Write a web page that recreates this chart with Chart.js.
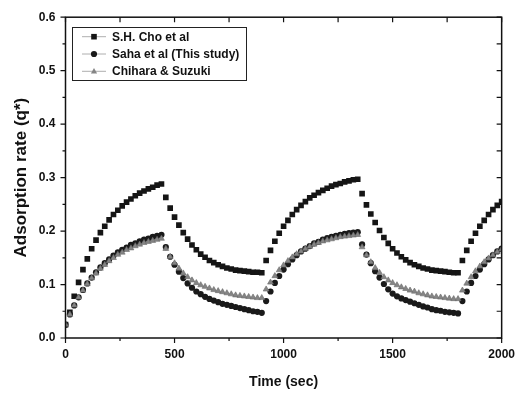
<!DOCTYPE html>
<html>
<head>
<meta charset="utf-8">
<script src="https://cdn.jsdelivr.net/npm/chart.js@4.4.1/dist/chart.umd.min.js"></script>
<style>
  html, body { margin: 0; padding: 0; background: #fff; }
  #wrap { width: 524px; height: 393px; }
</style>
</head>
<body>
<div id="wrap"><canvas id="myChart"></canvas></div>
<script>
// time axis (sec)
const times = [
  0, 20, 40, 60, 80, 100, 120, 140, 160, 180, 200, 220, 240, 260, 280, 300, 320, 340, 360, 380, 400, 420, 440,
  460, 480, 500, 520, 540, 560, 580, 600, 620, 640, 660, 680, 700, 720, 740, 760, 780, 800, 820, 840, 860, 880, 900,
  920, 940, 960, 980, 1000, 1020, 1040, 1060, 1080, 1100, 1120, 1140, 1160, 1180, 1200, 1220, 1240, 1260, 1280, 1300, 1320, 1340,
  1360, 1380, 1400, 1420, 1440, 1460, 1480, 1500, 1520, 1540, 1560, 1580, 1600, 1620, 1640, 1660, 1680, 1700, 1720, 1740, 1760, 1780, 1800,
  1820, 1840, 1860, 1880, 1900, 1920, 1940, 1960, 1980, 2000
];

// S.H. Cho et al (squares)
const choValues = [
  0.025, 0.048, 0.078, 0.104, 0.128, 0.148, 0.167, 0.183, 0.197, 0.209, 0.221, 0.231, 0.239, 0.247, 0.254, 0.260, 0.266, 0.271, 0.275, 0.279, 0.282, 0.286, 0.288,
  0.263, 0.243, 0.226, 0.211, 0.197, 0.185, 0.174, 0.165, 0.157, 0.151, 0.145, 0.141, 0.137, 0.134, 0.131, 0.129, 0.127, 0.126, 0.125, 0.124, 0.123, 0.123, 0.122,
  0.145, 0.164, 0.181, 0.196, 0.209, 0.220, 0.231, 0.240, 0.248, 0.255, 0.262, 0.267, 0.272, 0.276, 0.280, 0.284, 0.287, 0.289, 0.292, 0.294, 0.296, 0.297,
  0.270, 0.249, 0.232, 0.216, 0.201, 0.188, 0.177, 0.167, 0.159, 0.152, 0.146, 0.141, 0.137, 0.134, 0.131, 0.129, 0.127, 0.126, 0.125, 0.124, 0.123, 0.122, 0.122,
  0.145, 0.164, 0.181, 0.196, 0.209, 0.220, 0.231, 0.240, 0.248, 0.255
];

// Saha et al (circles)
const sahaValues = [
  0.025, 0.044, 0.061, 0.076, 0.090, 0.102, 0.113, 0.123, 0.132, 0.140, 0.147, 0.154, 0.160, 0.165, 0.169, 0.174, 0.177, 0.181, 0.184, 0.186, 0.189, 0.191, 0.193,
  0.170, 0.152, 0.137, 0.124, 0.112, 0.102, 0.094, 0.087, 0.082, 0.077, 0.073, 0.070, 0.067, 0.064, 0.062, 0.060, 0.058, 0.056, 0.054, 0.052, 0.050, 0.049, 0.047,
  0.069, 0.087, 0.103, 0.116, 0.128, 0.138, 0.147, 0.155, 0.162, 0.167, 0.172, 0.177, 0.180, 0.184, 0.187, 0.189, 0.191, 0.193, 0.195, 0.196, 0.197, 0.198,
  0.175, 0.156, 0.140, 0.125, 0.113, 0.101, 0.091, 0.083, 0.078, 0.074, 0.071, 0.068, 0.065, 0.062, 0.059, 0.057, 0.054, 0.052, 0.051, 0.049, 0.048, 0.047, 0.046,
  0.069, 0.087, 0.103, 0.116, 0.128, 0.138, 0.147, 0.155, 0.162, 0.167
];

// Chihara & Suzuki (triangles)
const chiharaValues = [
  0.025, 0.044, 0.061, 0.076, 0.089, 0.101, 0.112, 0.121, 0.130, 0.137, 0.144, 0.150, 0.156, 0.160, 0.165, 0.168, 0.172, 0.175, 0.178, 0.180, 0.182, 0.184, 0.186,
  0.167, 0.152, 0.140, 0.130, 0.121, 0.114, 0.108, 0.103, 0.099, 0.096, 0.093, 0.090, 0.088, 0.086, 0.084, 0.082, 0.080, 0.079, 0.078, 0.077, 0.076, 0.075, 0.075,
  0.091, 0.104, 0.116, 0.127, 0.136, 0.144, 0.151, 0.157, 0.162, 0.167, 0.171, 0.175, 0.178, 0.181, 0.183, 0.185, 0.187, 0.189, 0.190, 0.191, 0.192, 0.193,
  0.170, 0.155, 0.142, 0.131, 0.122, 0.114, 0.108, 0.103, 0.099, 0.095, 0.092, 0.089, 0.087, 0.084, 0.082, 0.080, 0.078, 0.077, 0.076, 0.075, 0.074, 0.073, 0.073,
  0.089, 0.102, 0.114, 0.125, 0.134, 0.142, 0.149, 0.155, 0.161, 0.166
];

const seriesNames = ['S.H. Cho et al', 'Saha et al (This study)', 'Chihara & Suzuki'];

Chart.defaults.font.family = '"Liberation Sans", Arial, sans-serif';

function toPoints(values) {
  return times.map((t, i) => ({ x: t, y: values[i] }));
}

// box with ticks on all four sides (out on bottom/left, in on top/right)
const frameTicks = {
  id: 'frameTicks',
  afterDatasetsDraw(chart) {
    const { ctx, chartArea: a, scales: { x, y } } = chart;
    ctx.save();
    ctx.strokeStyle = '#111';
    ctx.lineWidth = 1.5;
    ctx.strokeRect(a.left, a.top, a.right - a.left, a.bottom - a.top);
    ctx.lineWidth = 1.2;
    ctx.beginPath();
    for (let v = 0; v <= 2000; v += 250) {
      const px = x.getPixelForValue(v);
      const len = v % 500 === 0 ? 5 : 3;
      ctx.moveTo(px, a.bottom); ctx.lineTo(px, a.bottom + len);
      ctx.moveTo(px, a.top); ctx.lineTo(px, a.top + 5);
    }
    for (let k = 0; k <= 12; k++) {
      const py = y.getPixelForValue(k * 0.05);
      const len = k % 2 === 0 ? 5 : 3;
      ctx.moveTo(a.left, py); ctx.lineTo(a.left - len, py);
      ctx.moveTo(a.right, py); ctx.lineTo(a.right - 5, py);
    }
    ctx.stroke();
    ctx.restore();
  }
};

function drawMarker(ctx, style, cx, cy, color) {
  ctx.fillStyle = color;
  ctx.beginPath();
  if (style === 'rect') {
    ctx.rect(cx - 2.8, cy - 2.8, 5.6, 5.6);
  } else if (style === 'circle') {
    ctx.arc(cx, cy, 3.1, 0, Math.PI * 2);
  } else {
    ctx.moveTo(cx, cy - 3.3);
    ctx.lineTo(cx + 3.1, cy + 2.3);
    ctx.lineTo(cx - 3.1, cy + 2.3);
    ctx.closePath();
  }
  ctx.fill();
}

// legend box inside the plot, top left
const boxLegend = {
  id: 'boxLegend',
  afterDraw(chart) {
    const ctx = chart.ctx;
    ctx.save();
    ctx.strokeStyle = '#222';
    ctx.lineWidth = 1;
    ctx.strokeRect(72.5, 27.5, 174, 53);
    ctx.font = 'bold 12px "Liberation Sans", Arial, sans-serif';
    ctx.textBaseline = 'middle';
    chart.data.datasets.forEach((ds, i) => {
      const cy = 36.7 + i * 17.3;
      ctx.strokeStyle = '#999';
      ctx.lineWidth = 0.8;
      ctx.beginPath();
      ctx.moveTo(82, cy); ctx.lineTo(106, cy);
      ctx.stroke();
      drawMarker(ctx, ds.pointStyle, 94, cy, ds.backgroundColor);
      ctx.fillStyle = '#111';
      ctx.fillText(ds.label, 112, cy + 0.5);
    });
    ctx.restore();
  }
};

const tickFont = { size: 12, weight: 'bold' };

const myChart = new Chart(document.getElementById('myChart').getContext('2d'), {
  type: 'scatter',
  data: {
    datasets: [
      { label: seriesNames[0], data: toPoints(choValues), pointStyle: 'rect', pointRadius: 4,
        backgroundColor: '#151515', borderColor: '#151515', borderWidth: 0, order: 2 },
      { label: seriesNames[1], data: toPoints(sahaValues), pointStyle: 'circle', pointRadius: 3.1,
        backgroundColor: '#1a1a1a', borderColor: '#1a1a1a', borderWidth: 0, order: 1 },
      { label: seriesNames[2], data: toPoints(chiharaValues), pointStyle: 'triangle', pointRadius: 3.4,
        backgroundColor: '#858585', borderColor: '#6a6a6a', borderWidth: 0.6, order: 0 }
    ]
  },
  options: {
    responsive: true,
    maintainAspectRatio: false,
    animation: false,
    layout: { padding: { top: 17, right: 22, bottom: 0, left: 0 } },
    plugins: { legend: { display: false }, tooltip: { enabled: false } },
    scales: {
      x: {
        type: 'linear', min: 0, max: 2000,
        ticks: { stepSize: 500, color: '#111', font: tickFont, padding: 9, maxRotation: 0, callback: v => String(v) },
        grid: { display: false, drawTicks: false },
        border: { display: false },
        title: { display: true, text: 'Time (sec)', color: '#111', font: { size: 14, weight: 'bold' }, padding: { top: 0, bottom: 2 } },
        afterFit(s) { s.height = 55; }
      },
      y: {
        type: 'linear', min: 0, max: 0.6,
        ticks: { stepSize: 0.1, color: '#111', font: tickFont, padding: 10, callback: v => v.toFixed(1) },
        grid: { display: false, drawTicks: false },
        border: { display: false },
        title: { display: true, text: 'Adsorption rate (q*)', color: '#111', font: { size: 17, weight: 'bold' }, padding: { top: 11, bottom: 0 } },
        afterFit(s) { s.width = 65.5; }
      }
    }
  },
  plugins: [frameTicks, boxLegend]
});
</script>
</body>
</html>
